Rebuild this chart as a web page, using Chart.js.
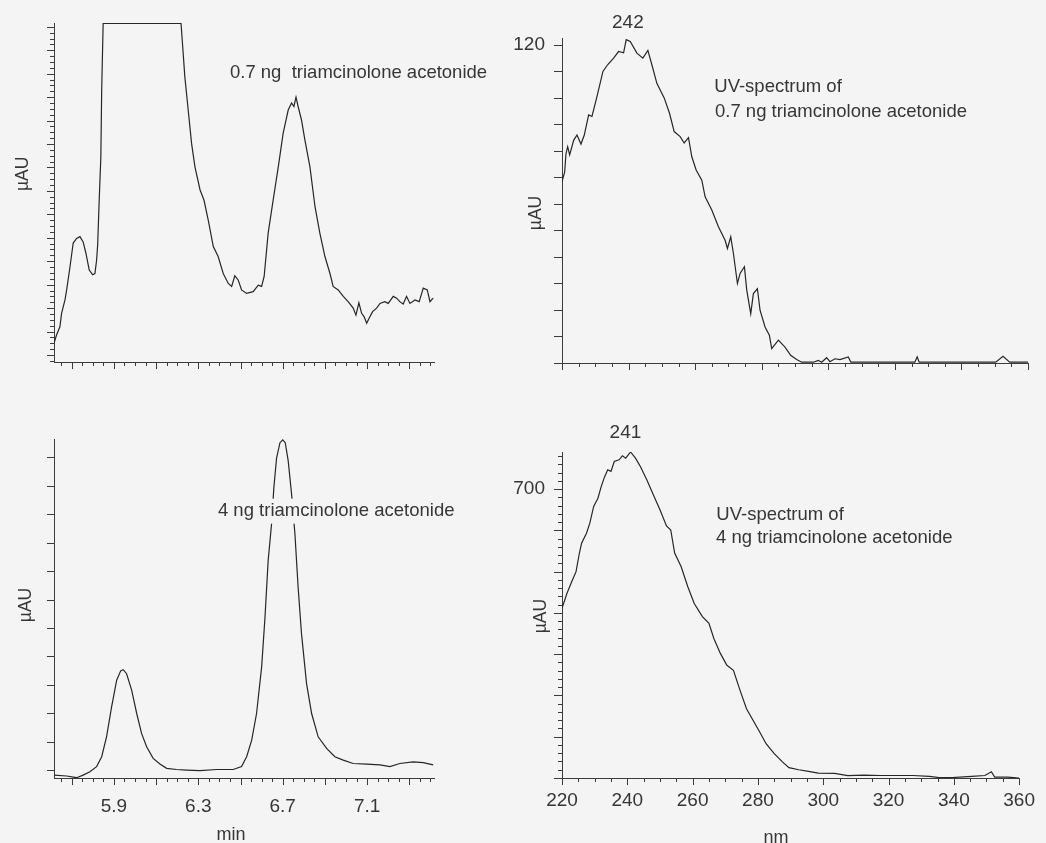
<!DOCTYPE html>
<html>
<head>
<meta charset="utf-8">
<title>Triamcinolone acetonide: chromatograms and UV spectra</title>
<script src="https://cdn.jsdelivr.net/npm/chart.js@4.4.3/dist/chart.umd.min.js"></script>
<style>
  html, body { margin: 0; padding: 0; background: #f4f4f4; }
  #page { position: relative; width: 1046px; height: 843px; overflow: hidden; }
  canvas { position: absolute; }
</style>
</head>
<body>
<div id="page">
  <canvas id="tl" width="500" height="400" style="left:0;top:0"></canvas>
  <canvas id="tr" width="546" height="400" style="left:500px;top:0"></canvas>
  <canvas id="bl" width="500" height="443" style="left:0;top:400px"></canvas>
  <canvas id="br" width="546" height="443" style="left:500px;top:400px"></canvas>
</div>
<script>
// chromatogram, 0.7 ng (retention time in min, signal in tick units)
const tlTime = [5.616, 5.628, 5.644, 5.652, 5.668, 5.676, 5.692, 5.707, 5.723, 5.739,
  5.754, 5.767, 5.783, 5.799, 5.81, 5.818, 5.823, 5.83, 5.838, 5.842,
  5.849, 6.218, 6.226, 6.236, 6.252, 6.268, 6.284, 6.308, 6.327, 6.347,
  6.371, 6.394, 6.418, 6.442, 6.458, 6.473, 6.489, 6.505, 6.529, 6.56,
  6.584, 6.6, 6.612, 6.631, 6.655, 6.679, 6.702, 6.726, 6.742, 6.753,
  6.763, 6.773, 6.789, 6.805, 6.829, 6.853, 6.876, 6.9, 6.924, 6.939,
  6.963, 6.987, 7.01, 7.034, 7.047, 7.061, 7.074, 7.086, 7.098, 7.11,
  7.126, 7.145, 7.161, 7.184, 7.2, 7.224, 7.24, 7.255, 7.271, 7.287,
  7.303, 7.327, 7.347, 7.366, 7.385, 7.398, 7.413];
const tlSignal = [2.0, 3.4, 4.8, 7.1, 9.4, 11.1, 15.1, 19.1, 19.9, 20.2,
  19.3, 17.4, 14.5, 13.7, 13.9, 16.2, 18.8, 26.2, 33.8, 45.2,
  56.6, 56.6, 52.6, 47.5, 41.8, 36.1, 32.1, 28.2, 26.4, 23.0,
  18.5, 16.8, 13.9, 12.2, 11.7, 13.5, 12.8, 11.1, 10.5, 10.8,
  11.9, 11.7, 13.4, 20.8, 26.5, 32.1, 37.8, 41.8, 43.0, 42.4,
  44.0, 42.4, 40.1, 36.7, 32.1, 25.3, 20.8, 16.8, 13.9, 11.7,
  11.1, 10.0, 9.1, 8.0, 6.8, 8.9, 7.1, 6.5, 5.4, 6.3,
  7.4, 8.0, 8.8, 9.1, 8.8, 10.0, 9.7, 9.1, 8.7, 10.0,
  8.8, 9.4, 9.1, 11.4, 11.1, 9.1, 9.7];

// chromatogram, 4 ng
const blTime = [5.616, 5.676, 5.723, 5.754, 5.786, 5.818, 5.842, 5.865, 5.889, 5.913,
  5.932, 5.944, 5.96, 5.984, 6.008, 6.031, 6.055, 6.086, 6.118, 6.15,
  6.197, 6.245, 6.308, 6.387, 6.465, 6.505, 6.529, 6.553, 6.576, 6.6,
  6.616, 6.631, 6.647, 6.658, 6.671, 6.687, 6.7, 6.712, 6.726, 6.742,
  6.758, 6.773, 6.789, 6.813, 6.837, 6.868, 6.908, 6.947, 6.987, 7.034,
  7.098, 7.161, 7.208, 7.255, 7.318, 7.366, 7.413];
const blSignal = [-0.18, -0.21, -0.27, -0.18, -0.06, 0.12, 0.47, 1.17, 2.22, 3.16,
  3.49, 3.53, 3.39, 2.81, 1.99, 1.29, 0.82, 0.41, 0.21, 0.06,
  0.02, 0, -0.02, 0.02, 0.02, 0.12, 0.47, 1.05, 1.99, 3.62,
  5.38, 7.37, 8.65, 9.94, 10.99, 11.52, 11.62, 11.52, 10.88, 9.71,
  8.3, 6.43, 4.8, 3.04, 1.99, 1.17, 0.76, 0.47, 0.35, 0.23,
  0.21, 0.18, 0.12, 0.23, 0.29, 0.26, 0.18];

// UV spectrum, 0.7 ng (nm, µAU)
const trWave = [220, 220.8, 221.2, 221.7, 222.3, 223.5, 224.5, 225.7, 226.7, 228,
  229, 230.5, 232.3, 233.7, 235.5, 237, 238.5, 239.3, 240.5, 242.5,
  244.3, 245.8, 247, 248.5, 250.7, 252.3, 253.7, 255.5, 256.7, 258,
  259, 260.3, 262, 263, 265, 267, 269, 269.7, 270.7, 271.5,
  272.7, 273.5, 274.8, 275.5, 276.7, 277.5, 278.7, 279.5, 281, 282.3,
  283, 285, 287, 288.7, 290.5, 292, 295.5, 297, 298, 299.5,
  300.5, 302, 303.5, 306, 306.8, 326, 326.7, 327.3, 350.3, 352.5,
  354.5, 360];
const trAbs = [68.4, 72, 79, 81.6, 78.5, 84, 86, 82.6, 86, 93.6,
  93, 100.5, 110, 112.5, 115, 117.5, 117, 122, 121.3, 116.9,
  115, 117.9, 112.5, 105.5, 100, 94.2, 87.3, 85.4, 83, 85,
  77.8, 72.8, 69, 62.7, 57.7, 51.4, 46.3, 43.2, 47.6, 41.3,
  30, 33.8, 36.3, 27.5, 18.6, 26.2, 28, 19.9, 13.6, 10.5,
  5.4, 8.6, 6, 2.9, 1.3, 0.3, 0.3, 1, 0.3, 2,
  0.5, 1.6, 1.3, 2.3, 0.3, 0.3, 2.3, 0.3, 0.3, 2.5,
  0.3, 0.3];

// UV spectrum, 4 ng
const brWave = [220, 221.5, 223, 224.3, 225.3, 226, 227.5, 228.5, 229.7, 231,
  232, 233, 234, 235, 236, 237.5, 238.5, 239.5, 241, 242.5,
  244, 246, 248, 250, 252, 253.3, 254.5, 256.5, 258.5, 260.5,
  263, 265, 266.5, 268.5, 270.5, 272.5, 274.5, 276.5, 278.5, 280.5,
  282.5, 285, 287.5, 289.5, 292.5, 295.5, 298.5, 303.5, 307.5, 312.5,
  317.5, 322.5, 327.5, 332.5, 335.5, 339.5, 345.5, 349.5, 351.5, 352.5,
  356.5, 360];
const brAbs = [411, 447, 476, 500, 544, 569, 593, 617, 658, 678,
  706, 729, 747, 743, 767, 771, 781, 775, 790, 775,
  755, 722, 686, 650, 611, 601, 545, 512, 464, 423,
  391, 375, 338, 302, 273, 261, 213, 168, 140, 112,
  83, 59, 39, 25, 20, 16, 12, 11, 6, 7,
  6, 6, 6, 4, 1, 1, 4, 6, 15, 2,
  2, 0];

// tick labels shown
const timeLabels = [5.9, 6.3, 6.7, 7.1];
const waveLabels = [220, 240, 260, 280, 300, 320, 340, 360];
const trYLabel = 120;
const brYLabel = 700;

const FONT = '"Liberation Sans", Arial, sans-serif';
const BG = '#f4f4f4';
const AXIS = '#3c3c3c';
const LINE = '#262626';
const TEXT = '#363636';

// short/long tick marks drawn from the scale's own ticks
function tickMarks(spec) {
  return {
    id: 'tickMarks',
    afterDraw(chart) {
      const ctx = chart.ctx;
      const sx = chart.scales.x, sy = chart.scales.y;
      ctx.save();
      ctx.strokeStyle = AXIS;
      ctx.lineWidth = 1;
      ctx.beginPath();
      sx.ticks.forEach(t => {
        const p = Math.round(sx.getPixelForValue(t.value)) + 0.5;
        const len = spec.xMajor(t.value) ? 7 : 4;
        ctx.moveTo(p, sx.top);
        ctx.lineTo(p, sx.top + len);
      });
      sy.ticks.forEach(t => {
        const p = Math.round(sy.getPixelForValue(t.value)) + 0.5;
        const len = spec.yMajor(t.value) ? spec.yLong : spec.yShort;
        ctx.moveTo(sy.right, p);
        ctx.lineTo(sy.right - len, p);
      });
      ctx.stroke();
      ctx.restore();
    }
  };
}

// free text placed in data coordinates
function notes(list) {
  return {
    id: 'notes',
    afterDraw(chart) {
      const {ctx, scales: {x, y}} = chart;
      ctx.save();
      ctx.textBaseline = 'middle';
      list.forEach(n => {
        const px = x.getPixelForValue(n.x);
        const py = y.getPixelForValue(n.y);
        ctx.font = (n.size || 18.5) + 'px ' + FONT;
        if (n.rotate) {
          ctx.save();
          ctx.translate(px, py);
          ctx.rotate(-Math.PI / 2);
          ctx.textAlign = 'center';
          ctx.fillStyle = TEXT;
          ctx.fillText(n.text, 0, 0);
          ctx.restore();
          return;
        }
        ctx.textAlign = n.align || 'left';
        if (n.bg) {
          const w = ctx.measureText(n.text).width;
          ctx.fillStyle = BG;
          ctx.fillRect(px - 3, py - 12.5, w + 6, 25);
        }
        ctx.fillStyle = TEXT;
        ctx.fillText(n.text, px, py);
      });
      ctx.restore();
    }
  };
}

function makeChart(id, c) {
  const tickFont = {family: FONT, size: 19};
  return new Chart(document.getElementById(id), {
    type: 'line',
    data: {
      datasets: [{
        data: c.xs.map((v, i) => ({x: v, y: c.ys[i]})),
        borderColor: LINE,
        borderWidth: 1.2,
        pointRadius: 0,
        tension: 0,
        fill: false
      }]
    },
    options: {
      responsive: false,
      animation: false,
      events: [],
      layout: {padding: c.padding},
      plugins: {legend: {display: false}, tooltip: {enabled: false}},
      scales: {
        x: {
          type: 'linear',
          min: c.xMin, max: c.xMax,
          afterFit: s => { s.height = c.xHeight; },
          grid: {display: false, drawTicks: false},
          border: {display: true, color: AXIS, width: 1},
          ticks: {
            display: !!c.xLabel,
            stepSize: c.xStep,
            includeBounds: false,
            autoSkip: false,
            maxRotation: 0,
            padding: c.xPad || 0,
            color: TEXT,
            font: tickFont,
            callback: v => (c.xLabel && c.xLabel(v)) || ''
          }
        },
        y: {
          type: 'linear',
          min: c.yMin, max: c.yMax,
          afterFit: s => { s.width = c.yWidth; },
          grid: {display: false, drawTicks: false},
          border: {display: true, color: AXIS, width: 1},
          ticks: {
            display: !!c.yLabel,
            stepSize: c.yStep,
            includeBounds: false,
            autoSkip: false,
            padding: 17,
            color: TEXT,
            font: tickFont,
            callback: v => (c.yLabel && c.yLabel(v)) || ''
          }
        }
      }
    },
    plugins: [tickMarks(c.ticks), notes(c.notes)]
  });
}

const timeMajor = v => Math.round(v * 20) % 4 === 2;
const timeText = v => timeLabels.includes(Math.round(v * 10) / 10) && Math.round(v * 20) % 2 === 0 ? v.toFixed(1) : '';
const waveMajor = v => Math.round(v) % 20 === 0;
const waveText = v => waveLabels.includes(Math.round(v)) ? String(Math.round(v)) : '';

makeChart('tl', {
  xs: tlTime, ys: tlSignal,
  xMin: 5.616, xMax: 7.417, xStep: 0.05, xHeight: 38,
  yMin: -1.2, yMax: 56.65, yStep: 1, yWidth: 54,
  padding: {left: 0, top: 23, right: 66, bottom: 0},
  ticks: {xMajor: timeMajor, yMajor: v => Math.round(v) % 4 === 0, yLong: 7, yShort: 4},
  notes: [
    {text: '0.7 ng  triamcinolone acetonide', x: 6.45, y: 48.1},
    {text: 'µAU', x: 5.469, y: 30.9, rotate: true, size: 17.5}
  ]
});

makeChart('bl', {
  xs: blTime, ys: blSignal,
  xMin: 5.616, xMax: 7.417, xStep: 0.05, xHeight: 65, xPad: 17, xLabel: timeText,
  yMin: -0.28, yMax: 11.65, yStep: 1, yWidth: 54,
  padding: {left: 0, top: 39, right: 66, bottom: 0},
  ticks: {xMajor: timeMajor, yMajor: () => true, yLong: 7, yShort: 7},
  notes: [
    {text: '4 ng triamcinolone acetonide', x: 6.393, y: 9.11, bg: true},
    {text: 'µAU', x: 5.483, y: 5.81, rotate: true, size: 17.5},
    {text: 'min', x: 6.4545, y: -2.29, align: 'center', size: 18}
  ]
});

makeChart('tr', {
  xs: trWave, ys: trAbs,
  xMin: 220, xMax: 360, xStep: 5, xHeight: 37,
  yMin: 0, yMax: 122.6, yStep: 10, yWidth: 62, yLabel: v => v === trYLabel ? String(v) : '',
  padding: {left: 0, top: 38, right: 18, bottom: 0},
  ticks: {xMajor: waveMajor, yMajor: () => true, yLong: 8, yShort: 8},
  notes: [
    {text: '242', x: 239.8, y: 128.4, align: 'center', size: 19},
    {text: 'UV-spectrum of', x: 265.75, y: 104.1},
    {text: '0.7 ng triamcinolone acetonide', x: 265.96, y: 94.7},
    {text: 'µAU', x: 212.19, y: 56.6, rotate: true, size: 17.5}
  ]
});

makeChart('br', {
  xs: brWave, ys: brAbs,
  xMin: 220, xMax: 360, xStep: 5, xHeight: 65, xPad: 11, xLabel: waveText,
  yMin: 0, yMax: 790, yStep: 20, yWidth: 62, yLabel: v => v === brYLabel ? String(v) : '',
  padding: {left: 0, top: 52, right: 18, bottom: 0},
  ticks: {xMajor: waveMajor, yMajor: v => Math.round(v) % 100 === 0, yLong: 8, yShort: 4},
  notes: [
    {text: '241', x: 239.43, y: 836.5, align: 'center', size: 19},
    {text: 'UV-spectrum of', x: 267.25, y: 638.5},
    {text: '4 ng triamcinolone acetonide', x: 267.16, y: 582.7},
    {text: 'µAU', x: 213.7, y: 392.5, rotate: true, size: 17.5},
    {text: 'nm', x: 285.5, y: -145.4, align: 'center', size: 18}
  ]
});
</script>
</body>
</html>
